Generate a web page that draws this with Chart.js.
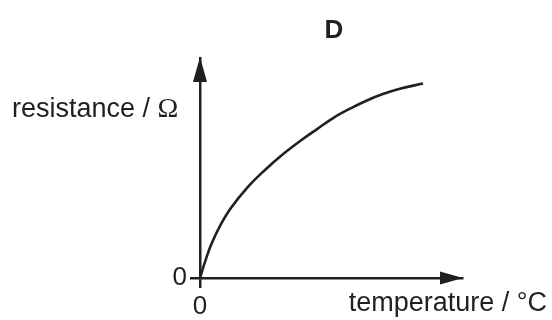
<!DOCTYPE html>
<html>
<head>
<meta charset="utf-8">
<script src="https://cdn.jsdelivr.net/npm/chart.js@4.4.1/dist/chart.umd.min.js"></script>
<style>
    html, body { margin: 0; padding: 0; background: #fff; }
    #wrap { width: 552px; height: 320px; }
</style>
</head>
<body>
<div id="wrap"><canvas id="chart" width="552" height="320"></canvas></div>
<script>
// sketch graph D: resistance rising steeply then levelling off
const temperature = [0, 1.9, 4.2, 7.6, 11.8, 18.3, 24.8, 31.3, 38.5, 44.7, 50.8, 57.3, 63.7, 69.8, 76.3, 85.1];
const resistance  = [0, 7.3, 15.0, 23.6, 31.8, 41.4, 49.1, 55.9, 62.5, 67.7, 72.7, 77.0, 80.7, 83.6, 86.0, 88.4];
const tickValues = [0];
const axisMax = 100;

const ink = '#231f20';
const sans = "'Liberation Sans', Arial, sans-serif";
const serif = "'Liberation Serif', 'Times New Roman', serif";

// arrowheads, axis labels and panel letter
const sketchDecor = {
    id: 'sketchDecor',
    afterDraw(chart) {
        const { ctx, scales: { x, y } } = chart;
        const x0 = x.getPixelForValue(0);
        const y0 = y.getPixelForValue(0);
        const xEnd = x.getPixelForValue(axisMax);
        const yEnd = y.getPixelForValue(axisMax);

        ctx.save();
        ctx.fillStyle = ink;

        ctx.beginPath();
        ctx.moveTo(x0, yEnd - 1);
        ctx.lineTo(x0 - 7, yEnd + 24);
        ctx.lineTo(x0 + 7, yEnd + 24);
        ctx.closePath();
        ctx.fill();

        ctx.beginPath();
        ctx.moveTo(xEnd + 1, y0);
        ctx.lineTo(xEnd - 22, y0 - 6.5);
        ctx.lineTo(xEnd - 22, y0 + 6.5);
        ctx.closePath();
        ctx.fill();

        ctx.textBaseline = 'alphabetic';

        // y label, horizontal, left of the axis
        ctx.textAlign = 'left';
        ctx.font = `27px ${sans}`;
        const yText = 'resistance / ';
        ctx.fillText(yText, 12, 117);
        const w = ctx.measureText(yText).width;
        ctx.font = `28px ${serif}`;
        ctx.fillText('\u03A9', 12 + w, 117);

        // x label, below the axis on the right
        ctx.textAlign = 'right';
        ctx.font = `27px ${sans}`;
        ctx.fillText('temperature / \u00B0C', 547, 311);

        // panel letter
        ctx.textAlign = 'center';
        ctx.font = `bold 26px ${sans}`;
        ctx.fillText('D', 334, 38);

        ctx.restore();
    }
};

const axisStyle = {
    min: 0,
    max: axisMax,
    afterBuildTicks: s => { s.ticks = tickValues.map(v => ({ value: v })); },
    ticks: {
        color: ink,
        padding: 3,
        font: { family: sans, size: 26 },
        callback: v => String(v)
    },
    grid: {
        drawOnChartArea: false,
        drawTicks: true,
        tickLength: 10,
        color: ink,
        lineWidth: 2.5
    },
    border: { display: true, color: ink, width: 2.5 }
};

new Chart(document.getElementById('chart'), {
    type: 'line',
    data: {
        datasets: [{
            data: temperature.map((t, i) => ({ x: t, y: resistance[i] })),
            borderColor: ink,
            borderWidth: 2.6,
            pointRadius: 0,
            fill: false,
            tension: 0.4
        }]
    },
    options: {
        responsive: false,
        animation: false,
        devicePixelRatio: 1,
        layout: { padding: { left: 0, right: 90, top: 58, bottom: 0 } },
        plugins: {
            legend: { display: false },
            title: { display: false },
            tooltip: { enabled: false }
        },
        scales: {
            x: { ...axisStyle, type: 'linear', position: 'bottom', afterFit: s => { s.height = 42; } },
            y: { ...axisStyle, type: 'linear', position: 'left', afterFit: s => { s.width = 200; } }
        }
    },
    plugins: [sketchDecor]
});
</script>
</body>
</html>
